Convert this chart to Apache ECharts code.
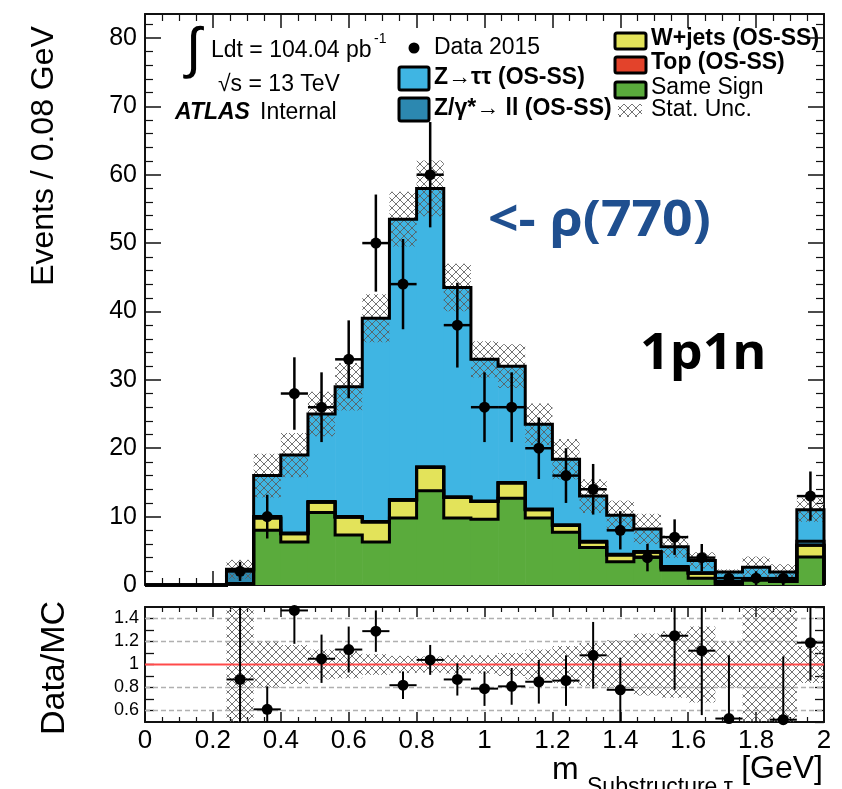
<!DOCTYPE html>
<html><head><meta charset="utf-8">
<script src="https://cdn.jsdelivr.net/npm/echarts@6/dist/echarts.min.js"></script>
<style>html,body{margin:0;padding:0;background:#fff}#c{width:842px;height:789px}</style>
</head><body><div id="c"></div>
<script>
// ---------- data (25 bins of 0.08 GeV) ----------
const binLow = [0,0.08,0.16,0.24,0.32,0.40,0.48,0.56,0.64,0.72,0.80,0.88,0.96,1.04,1.12,1.20,1.28,1.36,1.44,1.52,1.60,1.68,1.76,1.84,1.92];
const binWidth = 0.08;
const sameSign = [0,0,0,0.2,8.0,6.3,10.6,7.3,6.3,9.8,13.8,9.8,9.6,12.7,9.8,7.7,5.5,3.4,4.1,2.2,1.0,0.1,0.7,0.5,4.1];
const wjets    = [0,0,0,0,1.8,1.2,1.5,2.6,2.9,2.6,3.4,3.0,2.6,2.2,1.2,1.0,0.8,1.0,0.7,0.3,0.7,0,0.1,0,1.7];
const topQuark = [0,0,0,0,0,0,0,0,0,0,0,0,0,0,0,0,0,0,0,0,0,0,0,0,0];
const zll      = [0,0,0,1.9,0.2,0.1,0.1,0.1,0.1,0.1,0.1,0.1,0.1,0.1,0.1,0.1,0.1,0.1,0.1,0.2,0.1,0.4,0.1,0.3,0.6];
const ztautau  = [0,0,0,0.2,6.0,11.4,12.8,19.0,29.7,41.0,40.7,30.6,20.7,17.0,12.4,9.6,6.6,5.7,3.3,2.9,1.8,1.4,1.7,1.1,4.6];
const relStatUnc = [0,0,0,0.6,0.2,0.17,0.13,0.12,0.09,0.075,0.07,0.08,0.08,0.1,0.13,0.16,0.19,0.21,0.27,0.29,0.33,0.2,0.6,0.6,0.16];
const data2015 = [0,0,0,2,10,28,26,33,50,44,60,38,26,26,20,16,14,8,4,7,4,1,1,1,13];
const dataErr  = [0,0,0,1.4,3.2,5.3,5.1,5.7,7.1,6.6,7.7,6.2,5.1,5.1,4.5,4.0,3.7,2.8,2.0,2.6,2.0,1.0,1.0,1.0,3.6];
const ratio    = [null,null,null,0.87,0.61,1.47,1.05,1.13,1.29,0.82,1.04,0.87,0.79,0.81,0.85,0.86,1.08,0.78,null,1.25,1.12,0.53,null,0.52,1.19];
const ratioErr = [0,0,0,0.7,0.2,0.29,0.21,0.2,0.18,0.12,0.13,0.14,0.15,0.16,0.19,0.22,0.29,0.28,0,0.47,0.56,0.55,0,0.55,0.33];
const mainTicks = [0,10,20,30,40,50,60,70,80];
const ratioTicks = ['0.6','0.8','1','1.2','1.4'];
const ratioGrid = [0.6,0.8,1.2,1.4];

// ---------- styling ----------
const FONT = '"Liberation Sans", Arial, Helvetica, sans-serif';
const COL = {ss:'#5aab3c', w:'#e3e35a', top:'#e3432b', zll:'#2c88b0', ztt:'#3fb5e3'};
const layers = [sameSign, wjets, topQuark, zll, ztautau];
const layerCols = [COL.ss, COL.w, COL.top, COL.zll, COL.ztt];

// cumulative stack
const cum = [];
let run = binLow.map(() => 0);
layers.forEach(arr => { run = run.map((v, i) => v + arr[i]); cum.push(run.slice()); });
const total = cum[cum.length - 1];

function makeHatch() {
  const c = document.createElement('canvas'); c.width = 8; c.height = 8;
  const g = c.getContext('2d');
  g.strokeStyle = 'rgba(90,90,90,0.85)'; g.lineWidth = 1;
  g.beginPath(); g.moveTo(0,0); g.lineTo(8,8); g.moveTo(8,0); g.lineTo(0,8); g.stroke();
  return c;
}
const hatch = {image: makeHatch(), repeat: 'repeat'};

const idxData = binLow.map((x, i) => [x, i]);

function clampY(y, cs) { return Math.max(cs.y, Math.min(cs.y + cs.height, y)); }

const chart = echarts.init(document.getElementById('c'), null, {renderer: 'canvas'});

const axisLineStyle = {color: '#111', width: 2};
function xAx(grid, pos, labels, tl, ml) {
  return {
    type: 'value', gridIndex: grid, position: pos, min: 0, max: 2, interval: 0.2,
    axisLine: {show: true, onZero: false, lineStyle: axisLineStyle},
    axisTick: {show: true, inside: true, length: tl, lineStyle: {color: '#111', width: 1.5}},
    minorTick: {show: true, splitNumber: 4, length: ml, lineStyle: {color: '#111', width: 1.2}},
    splitLine: {show: false},
    axisLabel: {show: labels, fontFamily: FONT, fontSize: 26, color: '#000', margin: 6,
      formatter: v => (Math.abs(v - Math.round(v)) < 1e-6 ? String(Math.round(v)) : v.toFixed(1))}
  };
}

function txt(x, y, text, font, align, extra) {
  return Object.assign({type: 'text', x: x, y: y, style: {text: text, font: font, fill: '#000', align: align || 'left', verticalAlign: 'middle'}}, extra || {});
}
const LF = '23px ' + FONT;
const LFB = 'bold 23px ' + FONT;

const option = {
  animation: false,
  backgroundColor: '#fff',
  grid: [
    {left: 145, top: 14, width: 679, height: 571},
    {left: 145, top: 607, width: 679, height: 115}
  ],
  xAxis: [
    xAx(0, 'bottom', false, 14, 7),
    xAx(0, 'top', false, 14, 7),
    xAx(1, 'bottom', true, 10, 5),
    xAx(1, 'top', false, 10, 5)
  ],
  yAxis: [
    {type: 'value', gridIndex: 0, position: 'left', min: 0, max: 83.5, interval: 10,
      axisLine: {show: true, onZero: false, lineStyle: axisLineStyle},
      axisTick: {show: true, inside: true, length: 16, lineStyle: {color: '#111', width: 1.5}},
      minorTick: {show: true, splitNumber: 5, length: 8, lineStyle: {color: '#111', width: 1.2}},
      splitLine: {show: false},
      axisLabel: {fontFamily: FONT, fontSize: 25, color: '#000', margin: 8,
        formatter: v => (mainTicks.indexOf(Math.round(v)) >= 0 && Math.abs(v - Math.round(v)) < 1e-6 ? String(Math.round(v)) : '')}},
    {type: 'value', gridIndex: 0, position: 'right', min: 0, max: 83.5, interval: 10,
      axisLine: {show: true, onZero: false, lineStyle: axisLineStyle},
      axisTick: {show: true, inside: true, length: 16, lineStyle: {color: '#111', width: 1.5}},
      minorTick: {show: true, splitNumber: 5, length: 8, lineStyle: {color: '#111', width: 1.2}},
      splitLine: {show: false}, axisLabel: {show: false}},
    {type: 'value', gridIndex: 1, position: 'left', min: 0.5, max: 1.5, interval: 0.1,
      axisLine: {show: true, onZero: false, lineStyle: axisLineStyle},
      axisTick: {show: true, inside: true, length: 9, lineStyle: {color: '#111', width: 1.3}},
      splitLine: {show: false},
      axisLabel: {fontFamily: FONT, fontSize: 18, color: '#000', margin: 6, showMinLabel: false, showMaxLabel: false,
        formatter: v => { const s = String(Math.round(v * 10) / 10); return ratioTicks.indexOf(s) >= 0 ? s : ''; }}},
    {type: 'value', gridIndex: 1, position: 'right', min: 0.5, max: 1.5, interval: 0.1,
      axisLine: {show: true, onZero: false, lineStyle: axisLineStyle},
      axisTick: {show: true, inside: true, length: 9, lineStyle: {color: '#111', width: 1.3}},
      splitLine: {show: false}, axisLabel: {show: false}}
  ],
  series: [
    // stacked fills
    {type: 'custom', xAxisIndex: 0, yAxisIndex: 0, z: 2, data: idxData,
      renderItem: (params, api) => {
        const i = api.value(1);
        const children = [];
        let base = 0;
        layers.forEach((arr, k) => {
          const v = arr[i];
          if (v > 0) {
            const p0 = api.coord([binLow[i], base]);
            const p1 = api.coord([binLow[i] + binWidth, base + v]);
            children.push({type: 'rect', shape: {x: p0[0], y: p1[1], width: p1[0] - p0[0] + 0.6, height: p0[1] - p1[1]},
              style: {fill: layerCols[k]}});
          }
          base += v;
        });
        return {type: 'group', children};
      }},
    // stat uncertainty band (main)
    {type: 'custom', xAxisIndex: 0, yAxisIndex: 0, z: 3, data: idxData,
      renderItem: (params, api) => {
        const i = api.value(1);
        if (!(total[i] > 0)) return null;
        const cs = params.coordSys;
        const p0 = api.coord([binLow[i], total[i] * (1 - relStatUnc[i])]);
        const p1 = api.coord([binLow[i] + binWidth, total[i] * (1 + relStatUnc[i])]);
        const y0 = clampY(p0[1], cs), y1 = clampY(p1[1], cs);
        return {type: 'rect', shape: {x: p0[0], y: y1, width: p1[0] - p0[0], height: y0 - y1}, style: {fill: hatch}};
      }},
    // outlines per layer (step)
    {type: 'custom', xAxisIndex: 0, yAxisIndex: 0, z: 4, data: layers.map((a, k) => [0, k]),
      renderItem: (params, api) => {
        const k = api.value(1);
        const C = cum[k];
        const pts = [api.coord([0, 0])];
        binLow.forEach((x, i) => { pts.push(api.coord([x, C[i]])); pts.push(api.coord([x + binWidth, C[i]])); });
        pts.push(api.coord([2, 0]));
        return {type: 'polyline', shape: {points: pts}, style: {stroke: '#000', lineWidth: 3, fill: null, lineJoin: 'miter'}};
      }},
    // data points
    {type: 'custom', xAxisIndex: 0, yAxisIndex: 0, z: 6, data: idxData,
      renderItem: (params, api) => {
        const i = api.value(1);
        const d = data2015[i];
        if (!(d > 0)) return null;
        const xc = binLow[i] + binWidth / 2;
        const pc = api.coord([xc, d]);
        const pl = api.coord([binLow[i], d]);
        const pr = api.coord([binLow[i] + binWidth, d]);
        const pu = api.coord([xc, d + dataErr[i]]);
        const pd = api.coord([xc, Math.max(0, d - dataErr[i])]);
        return {type: 'group', children: [
          {type: 'line', shape: {x1: pc[0], y1: pu[1], x2: pc[0], y2: pd[1]}, style: {stroke: '#000', lineWidth: 2.5}},
          {type: 'line', shape: {x1: pl[0], y1: pc[1], x2: pr[0], y2: pc[1]}, style: {stroke: '#000', lineWidth: 2.5}},
          {type: 'circle', shape: {cx: pc[0], cy: pc[1], r: 5.5}, style: {fill: '#000'}}
        ]};
      }},
    // ratio grid lines
    {type: 'custom', xAxisIndex: 2, yAxisIndex: 2, z: 1, data: ratioGrid.map((v, k) => [0, v]),
      renderItem: (params, api) => {
        const v = api.value(1);
        const a = api.coord([0, v]), b = api.coord([2, v]);
        return {type: 'line', shape: {x1: a[0], y1: a[1], x2: b[0], y2: b[1]}, style: {stroke: '#b0b0b0', lineWidth: 1.5, lineDash: [5, 3]}};
      }},
    // ratio band
    {type: 'custom', xAxisIndex: 2, yAxisIndex: 2, z: 2, data: idxData,
      renderItem: (params, api) => {
        const i = api.value(1);
        if (!(total[i] > 0)) return null;
        const cs = params.coordSys;
        const p0 = api.coord([binLow[i], 1 - relStatUnc[i]]);
        const p1 = api.coord([binLow[i] + binWidth, 1 + relStatUnc[i]]);
        const y0 = clampY(p0[1], cs), y1 = clampY(p1[1], cs);
        return {type: 'rect', shape: {x: p0[0], y: y1, width: p1[0] - p0[0], height: y0 - y1}, style: {fill: hatch}};
      }},
    // ratio unity line
    {type: 'custom', xAxisIndex: 2, yAxisIndex: 2, z: 3, data: [[0, 1]],
      renderItem: (params, api) => {
        const a = api.coord([0, 1]), b = api.coord([2, 1]);
        return {type: 'line', shape: {x1: a[0], y1: a[1], x2: b[0], y2: b[1]}, style: {stroke: '#ff4a4a', lineWidth: 2}};
      }},
    // ratio points
    {type: 'custom', xAxisIndex: 2, yAxisIndex: 2, z: 6, data: idxData,
      renderItem: (params, api) => {
        const i = api.value(1);
        const r = ratio[i];
        if (r === null) return null;
        const cs = params.coordSys;
        const xc = binLow[i] + binWidth / 2;
        const pc = api.coord([xc, r]);
        const pl = api.coord([binLow[i], r]);
        const pr = api.coord([binLow[i] + binWidth, r]);
        const pu = api.coord([xc, r + ratioErr[i]]);
        const pd = api.coord([xc, r - ratioErr[i]]);
        return {type: 'group', children: [
          {type: 'line', shape: {x1: pc[0], y1: clampY(pu[1], cs), x2: pc[0], y2: clampY(pd[1], cs)}, style: {stroke: '#000', lineWidth: 2}},
          {type: 'line', shape: {x1: pl[0], y1: pc[1], x2: pr[0], y2: pc[1]}, style: {stroke: '#000', lineWidth: 2}},
          {type: 'circle', shape: {cx: pc[0], cy: pc[1], r: 5.5}, style: {fill: '#000'}}
        ]};
      }}
  ],
  graphic: [
    // axis titles
    txt(44, 156, 'Events / 0.08 GeV', '32px ' + FONT, 'center', {rotation: Math.PI / 2}),
    txt(55, 668, 'Data/MC', '34px ' + FONT, 'center', {rotation: Math.PI / 2}),
    txt(823, 769, '[GeV]', '32px ' + FONT, 'right'),
    txt(552, 770, 'm', '32px ' + FONT, 'left'),
    txt(587, 788, 'Substructure τ', '23px ' + FONT, 'left'),
    // ATLAS labels
    txt(186, 52, '∫', '56px ' + FONT, 'left'),
    txt(211, 51, 'Ldt = 104.04 pb', LF, 'left'),
    txt(374, 39, '-1', '14px ' + FONT, 'left'),
    txt(218, 85, '√s = 13 TeV', LF, 'left'),
    txt(175, 113, 'ATLAS', 'italic bold 23px ' + FONT, 'left'),
    txt(260, 113, 'Internal', LF, 'left'),
    // legend
    {type: 'circle', shape: {cx: 414, cy: 48, r: 5.5}, style: {fill: '#000'}},
    txt(434, 48, 'Data 2015', LF, 'left'),
    {type: 'rect', shape: {x: 399, y: 67, width: 30, height: 23, r: 2}, style: {fill: COL.ztt, stroke: '#000', lineWidth: 3}},
    txt(434, 78, 'Z→ττ (OS-SS)', LFB, 'left'),
    {type: 'rect', shape: {x: 399, y: 98, width: 30, height: 23, r: 2}, style: {fill: COL.zll, stroke: '#000', lineWidth: 3}},
    txt(434, 109, 'Z/γ*→ ll (OS-SS)', LFB, 'left'),
    {type: 'rect', shape: {x: 615, y: 33, width: 31, height: 16, r: 2}, style: {fill: COL.w, stroke: '#000', lineWidth: 3}},
    txt(651, 39, 'W+jets (OS-SS)', LFB, 'left'),
    {type: 'rect', shape: {x: 615, y: 57, width: 31, height: 16, r: 2}, style: {fill: COL.top, stroke: '#000', lineWidth: 3}},
    txt(651, 63, 'Top (OS-SS)', LFB, 'left'),
    {type: 'rect', shape: {x: 615, y: 82, width: 31, height: 16, r: 2}, style: {fill: COL.ss, stroke: '#000', lineWidth: 3}},
    txt(651, 88, 'Same Sign', LF, 'left'),
    {type: 'rect', shape: {x: 618, y: 104, width: 24, height: 13}, style: {fill: hatch}},
    txt(651, 110, 'Stat. Unc.', LF, 'left'),
    // annotations
    {type: 'text', x: 488, y: 222, scaleX: 1.07, style: {text: '<- ρ(770)', font: 'bold 50px "Open Sans", ' + FONT, fill: '#1f4f8f', align: 'left', verticalAlign: 'middle'}},
    {type: 'text', x: 640, y: 355, scaleX: 1.04, style: {text: '1p1n', font: 'bold 50px "Open Sans", ' + FONT, fill: '#000', align: 'left', verticalAlign: 'middle'}}
  ]
};
chart.setOption(option);
</script>
</body></html>
